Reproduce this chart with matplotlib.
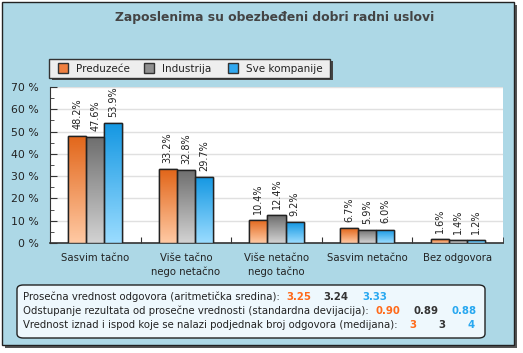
import matplotlib
matplotlib.use("Agg")
import matplotlib.pyplot as plt
import numpy as np
from matplotlib.patches import Rectangle, FancyBboxPatch
from matplotlib.colors import LinearSegmentedColormap

plt.rcParams['font.family'] = ['DejaVu Sans']

title = "Zaposlenima su obezbeđeni dobri radni uslovi"
categories = ["Sasvim tačno", "Više tačno\nnego netačno", "Više netačno\nnego tačno",
              "Sasvim netačno", "Bez odgovora"]
series = ["Preduzeće", "Industrija", "Sve kompanije"]
preduzece = [48.2, 33.2, 10.4, 6.7, 1.6]
industrija = [47.6, 32.8, 12.4, 5.9, 1.4]
sve_kompanije = [53.9, 29.7, 9.2, 6.0, 1.2]
values = [preduzece, industrija, sve_kompanije]
yticks = [0, 10, 20, 30, 40, 50, 60, 70]

stat_labels = ["Prosečna vrednost odgovora (aritmetička sredina):",
               "Odstupanje rezultata od prosečne vrednosti (standardna devijacija):",
               "Vrednost iznad i ispod koje se nalazi podjednak broj odgovora (medijana):"]
stat_mean = ["3.25", "3.24", "3.33"]
stat_sd = ["0.90", "0.89", "0.88"]
stat_median = ["3", "3", "4"]

grad = [("#e2661a", "#ffc9a3"), ("#6e6e6e", "#d2d2d2"), ("#1497e2", "#9adcff")]
solid = ["#f08040", "#909090", "#30a8f0"]
text_cols = ["#ff6a1a", "#333333", "#28a8f0"]

W, H = 523, 353
fig = plt.figure(figsize=(W / 100, H / 100), dpi=100, facecolor="white")

def fx(x): return x / W
def fy(y): return 1 - y / H

# outer panel with shadow
fig.patches.append(Rectangle((fx(5), fy(348)), fx(512), (345 - 2) / H, transform=fig.transFigure,
                             facecolor="#555555", edgecolor="none", zorder=0))
fig.patches.append(Rectangle((fx(2), fy(345)), fx(512), (345 - 2) / H, transform=fig.transFigure,
                             facecolor="#add8e6", edgecolor="#222222", linewidth=1, zorder=0.1))

fig.text(fx(275), fy(18), title, ha="center", va="center", fontsize=8.9,
         fontweight="bold", color="#444444")

ax = fig.add_axes([fx(50), fy(243), (503 - 50) / W, (243 - 87) / H])
ax.set_zorder(2)
ax.set_facecolor("white")
ax.set_xlim(-0.5, 4.5)
ax.set_ylim(0, 70)
ax.set_yticks(yticks)
ax.set_yticklabels([f"{v} %" for v in yticks], fontsize=7.8, color="#222222")
ax.set_yticks(np.arange(5, 70, 5), minor=True)
ax.tick_params(axis="y", which="major", direction="in", length=5, pad=8, color="#333333")
ax.tick_params(axis="y", which="minor", direction="in", length=3, color="#333333")
ax.set_xticks(np.arange(0.5, 4.5, 1))
ax.set_xticklabels([])
ax.set_xticks([4.5], minor=True)
ax.tick_params(axis="x", which="both", direction="in", length=4, color="#333333")
ax.grid(axis="y", which="major", color="#e0e0e0", linewidth=1)
ax.set_axisbelow(True)
for s in ["top", "right"]:
    ax.spines[s].set_visible(False)
ax.spines["left"].set_color("#333333")
ax.spines["bottom"].set_color("#333333")
ax.spines["bottom"].set_linewidth(1.2)

x = np.arange(len(categories))
bw = 0.2
offsets = [-bw, 0, bw]
for k, vals in enumerate(values):
    cmap = LinearSegmentedColormap.from_list(f"g{k}", [grad[k][1], grad[k][0]])
    bars = ax.bar(x + offsets[k], vals, width=bw, color=solid[k], edgecolor="#222222",
                  linewidth=1, zorder=3)
    for b, v in zip(bars, vals):
        x0, y0 = b.get_x(), b.get_y()
        img = ax.imshow(np.linspace(0, 1, 64).reshape(-1, 1), cmap=cmap, aspect="auto",
                        origin="lower", extent=(x0, x0 + b.get_width(), y0, y0 + b.get_height()),
                        zorder=3.1)
        img.set_clip_path(b)
        ax.add_patch(Rectangle((x0, y0), b.get_width(), b.get_height(), facecolor="none",
                               edgecolor="#222222", linewidth=1, zorder=3.2))
        ax.text(b.get_x() + b.get_width() / 2, v + 2.8, f"{v:.1f}%", rotation=90,
                ha="center", va="bottom", fontsize=7, color="#222222", zorder=4)
ax.set_xlim(-0.5, 4.5)
ax.set_ylim(0, 70)

for i, c in enumerate(categories):
    ax.text(i, -4.5, c, ha="center", va="top", fontsize=7.3, color="#222222",
            linespacing=1.4, transform=ax.transData, clip_on=False)

# legend
fig.patches.append(Rectangle((fx(52), fy(80)), 281 / W, 19 / H, transform=fig.transFigure,
                             facecolor="#444444", edgecolor="none", zorder=1))
fig.patches.append(Rectangle((fx(49), fy(78)), 281 / W, 19 / H, transform=fig.transFigure,
                             facecolor="#eeeeee", edgecolor="#333333", linewidth=1, zorder=1.1))
leg_x = [58, 144, 228]
for k, name in enumerate(series):
    fig.patches.append(Rectangle((fx(leg_x[k]), fy(73)), 10 / W, 10 / H, transform=fig.transFigure,
                                 facecolor=solid[k], edgecolor="#333333", linewidth=1, zorder=1.2))
    fig.text(fx(leg_x[k] + 18), fy(68.5), name, ha="left", va="center", fontsize=7.5,
             color="#222222", zorder=1.3)

# stats box
fig.patches.append(FancyBboxPatch((fx(17), fy(338)), (485 - 17) / W, (338 - 285) / H,
                                  boxstyle="round,pad=0,rounding_size=0.012",
                                  transform=fig.transFigure, facecolor="#eef8fd",
                                  edgecolor="#222222", linewidth=1, zorder=1))
rows_y = [297, 311, 325]
val_x = [[286, 323, 362], [376, 413, 452], [409, 438, 467]]
stats = [stat_mean, stat_sd, stat_median]
for r in range(3):
    fig.text(fx(23), fy(rows_y[r]), stat_labels[r], ha="left", va="center", fontsize=7.3,
             color="#222222", zorder=2)
    for k in range(3):
        fig.text(fx(val_x[r][k]), fy(rows_y[r]), stats[r][k], ha="left", va="center",
                 fontsize=7.3, fontweight="bold", color=text_cols[k], zorder=2)

fig.savefig("out.png", dpi=100, facecolor="white")
